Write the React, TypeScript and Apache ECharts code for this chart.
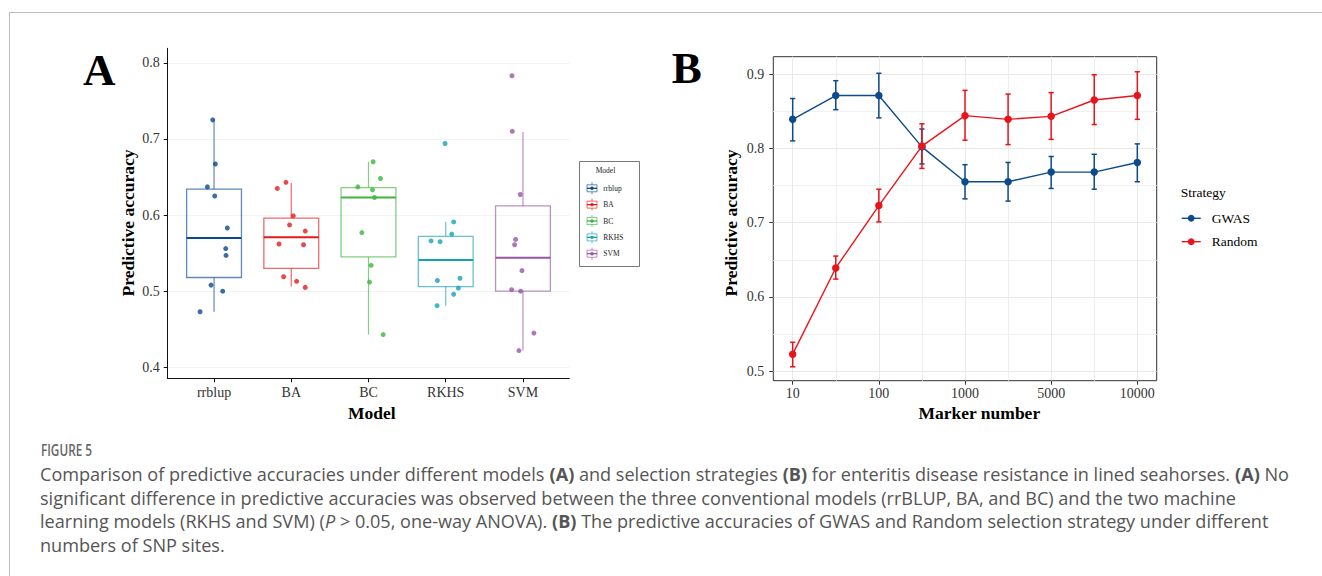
import React, { useEffect, useRef } from "react";
import * as echarts from "echarts";

// ---------- Panel A data ----------
const models = ["rrblup", "BA", "BC", "RKHS", "SVM"];
const modelColors = ["#0b4a8f", "#e31a1c", "#3fb53c", "#16a2b6", "#9656a6"];
// [min, Q1, median, Q3, max]
const boxStats = [
  [0.473, 0.518, 0.57, 0.634, 0.725],
  [0.506, 0.53, 0.571, 0.596, 0.642],
  [0.443, 0.545, 0.623, 0.636, 0.67],
  [0.481, 0.506, 0.541, 0.572, 0.591],
  [0.422, 0.5, 0.544, 0.612, 0.709],
];
const rrblupPts = [0.725, 0.667, 0.637, 0.625, 0.583, 0.556, 0.547, 0.508, 0.5, 0.473];
const rrblupJitter = [-0.017, 0.017, -0.086, 0.009, 0.172, 0.151, 0.155, -0.039, 0.112, -0.181];
const baPts = [0.643, 0.635, 0.599, 0.587, 0.579, 0.562, 0.561, 0.519, 0.513, 0.505];
const baJitter = [-0.069, -0.181, 0.026, -0.022, 0.181, -0.159, 0.159, -0.099, 0.069, 0.181];
const bcPts = [0.67, 0.648, 0.637, 0.633, 0.623, 0.577, 0.534, 0.512, 0.443];
const bcJitter = [0.06, 0.155, -0.138, 0.052, 0.078, -0.086, 0.034, 0.013, 0.19];
const rkhsPts = [0.694, 0.591, 0.575, 0.566, 0.565, 0.514, 0.517, 0.504, 0.496, 0.481];
const rkhsJitter = [-0.009, 0.103, 0.078, -0.19, -0.073, -0.108, 0.185, 0.164, 0.103, -0.112];
const svmPts = [0.783, 0.71, 0.627, 0.568, 0.561, 0.527, 0.502, 0.5, 0.445, 0.422];
const svmJitter = [-0.142, -0.138, -0.034, -0.095, -0.108, -0.013, -0.147, -0.03, 0.142, -0.052];
const modelPoints = [rrblupPts, baPts, bcPts, rkhsPts, svmPts];
const modelJitter = [rrblupJitter, baJitter, bcJitter, rkhsJitter, svmJitter];
const yTicksA = [0.4, 0.5, 0.6, 0.7, 0.8];

// ---------- Panel B data ----------
const markerPositions = [1, 2, 3, 4, 5, 6, 7, 8, 9];
const markerTickPositions = [1, 3, 5, 7, 9];
const markerTickLabels = ["10", "100", "1000", "5000", "10000"];
const gwasMean = [0.839, 0.871, 0.871, 0.802, 0.755, 0.755, 0.768, 0.768, 0.781];
const gwasLow = [0.81, 0.852, 0.841, 0.779, 0.732, 0.729, 0.746, 0.745, 0.755];
const gwasHigh = [0.867, 0.891, 0.901, 0.826, 0.778, 0.781, 0.789, 0.792, 0.806];
const randMean = [0.523, 0.639, 0.723, 0.803, 0.844, 0.839, 0.843, 0.865, 0.871];
const randLow = [0.506, 0.624, 0.701, 0.773, 0.811, 0.805, 0.812, 0.832, 0.839];
const randHigh = [0.539, 0.655, 0.745, 0.833, 0.878, 0.873, 0.875, 0.899, 0.903];
const yTicksB = [0.5, 0.6, 0.7, 0.8, 0.9];
const yMinorB = [0.55, 0.65, 0.75, 0.85];
const xMinorB = [2, 4, 6, 8];
const strategies = ["GWAS", "Random"];
const strategyColors = ["#0d4a8a", "#e8141b"];

// ---------- Caption ----------
const captionTitle = "FIGURE 5";
const captionLines = [
  "Comparison of predictive accuracies under different models {b|(A)} and selection strategies {b|(B)} for enteritis disease resistance in lined seahorses. {b|(A)} No",
  "significant difference in predictive accuracies was observed between the three conventional models (rrBLUP, BA, and BC) and the two machine",
  "learning models (RKHS and SVM) ({i|P} > 0.05, one-way ANOVA). {b|(B)} The predictive accuracies of GWAS and Random selection strategy under different",
  "numbers of SNP sites.",
];

const SERIF = '"Liberation Serif", "Times New Roman", serif';
const SANS = '"Open Sans", "Noto Sans", sans-serif';

export default function App() {
  const ref = useRef<HTMLDivElement>(null);
  useEffect(() => {
    if (!ref.current) return;
    const chart = echarts.init(ref.current, null, { renderer: "svg" });
    const alpha = (c: string, a: number) => echarts.color.modifyAlpha(c, a);

    const boxSeries: any = {
      type: "custom",
      name: "box",
      xAxisIndex: 0,
      yAxisIndex: 0,
      data: boxStats.map((s, i) => [i + 1, ...s]),
      encode: { x: 0, y: [1, 2, 3, 4, 5] },
      z: 2,
      renderItem: (params: any, api: any) => {
        const x = api.value(0);
        const c = modelColors[params.dataIndex];
        const light = alpha(c, 0.65);
        const pMin = api.coord([x, api.value(1)]);
        const pQ1 = api.coord([x, api.value(2)]);
        const pMed = api.coord([x, api.value(3)]);
        const pQ3 = api.coord([x, api.value(4)]);
        const pMax = api.coord([x, api.value(5)]);
        const hw = api.size([0.355, 0])[0];
        return {
          type: "group",
          children: [
            { type: "line", shape: { x1: pMax[0], y1: pMax[1], x2: pQ3[0], y2: pQ3[1] }, style: { stroke: light, lineWidth: 1.2 } },
            { type: "line", shape: { x1: pQ1[0], y1: pQ1[1], x2: pMin[0], y2: pMin[1] }, style: { stroke: light, lineWidth: 1.2 } },
            { type: "rect", shape: { x: pQ3[0] - hw, y: pQ3[1], width: 2 * hw, height: pQ1[1] - pQ3[1] }, style: { fill: "none", stroke: light, lineWidth: 1.3 } },
            { type: "line", shape: { x1: pMed[0] - hw, y1: pMed[1], x2: pMed[0] + hw, y2: pMed[1] }, style: { stroke: c, lineWidth: 2 } },
          ],
        };
      },
    };

    const pointSeries = models.map((m, i) => ({
      type: "scatter",
      name: m,
      xAxisIndex: 0,
      yAxisIndex: 0,
      symbol: "circle",
      symbolSize: 5,
      itemStyle: { color: modelColors[i] },
      z: 3,
      data: modelPoints[i].map((v, j) => [i + 1 + modelJitter[i][j], v]),
    }));

    const errSeries = (lo: number[], hi: number[], color: string, name: string) => ({
      type: "custom",
      name,
      xAxisIndex: 1,
      yAxisIndex: 1,
      data: markerPositions.map((p, i) => [p, lo[i], hi[i]]),
      encode: { x: 0, y: [1, 2] },
      renderItem: (params: any, api: any) => {
        const x = api.value(0);
        const a = api.coord([x, api.value(1)]);
        const b = api.coord([x, api.value(2)]);
        const hw = 2.6;
        const st = { stroke: color, lineWidth: 1.5 };
        return {
          type: "group",
          children: [
            { type: "line", shape: { x1: a[0], y1: a[1], x2: b[0], y2: b[1] }, style: st },
            { type: "line", shape: { x1: a[0] - hw, y1: a[1], x2: a[0] + hw, y2: a[1] }, style: st },
            { type: "line", shape: { x1: b[0] - hw, y1: b[1], x2: b[0] + hw, y2: b[1] }, style: st },
          ],
        };
      },
    });

    const lineSeries = (mean: number[], color: string, name: string) => ({
      type: "line",
      name,
      xAxisIndex: 1,
      yAxisIndex: 1,
      symbol: "circle",
      symbolSize: 7.5,
      showSymbol: true,
      itemStyle: { color },
      lineStyle: { color, width: 1.4 },
      data: markerPositions.map((p, i) => [p, mean[i]]),
    });

    const axisText = { fontFamily: SERIF, fontSize: 14, color: "#333" };

    // legends & labels
    const graphics: any[] = [];
    graphics.push({ type: "line", shape: { x1: 9.5, y1: 12.5, x2: 1322, y2: 12.5 }, style: { stroke: "#bdbdbd", lineWidth: 1 } });
    graphics.push({ type: "line", shape: { x1: 9.5, y1: 12.5, x2: 9.5, y2: 576 }, style: { stroke: "#bdbdbd", lineWidth: 1 } });
    graphics.push({ type: "text", x: 99.3, y: 70, style: { text: "A", fontFamily: SERIF, fontWeight: "bold", fontSize: 45, fill: "#000", textAlign: "center", textVerticalAlign: "middle" } });
    graphics.push({ type: "text", x: 686.7, y: 68.3, style: { text: "B", fontFamily: SERIF, fontWeight: "bold", fontSize: 45, fill: "#000", textAlign: "center", textVerticalAlign: "middle" } });
    const title = (t: string, x: number, y: number, rot = 0) => ({
      type: "text", x, y, rotation: rot,
      style: { text: t, fontFamily: SERIF, fontWeight: "bold", fontSize: 17.5, fill: "#000", textAlign: "center", textVerticalAlign: "middle" },
    });
    graphics.push(title("Predictive accuracy", 128.3, 223, Math.PI / 2));
    graphics.push(title("Model", 371.7, 413));
    graphics.push(title("Predictive accuracy", 730.7, 223, Math.PI / 2));
    graphics.push(title("Marker number", 979.3, 413));

    // Legend A
    graphics.push({ type: "rect", shape: { x: 579.5, y: 161.5, width: 60, height: 105 }, style: { fill: "#fff", stroke: "#555", lineWidth: 0.8 } });
    graphics.push({ type: "text", x: 605.5, y: 170.5, style: { text: "Model", fontFamily: SERIF, fontSize: 7.5, fill: "#222", textAlign: "center", textVerticalAlign: "middle" } });
    models.forEach((m, i) => {
      const cy = 188.3 + 16.35 * i;
      const c = modelColors[i];
      graphics.push({ type: "line", shape: { x1: 592, y1: cy - 6, x2: 592, y2: cy - 3.5 }, style: { stroke: alpha(c, 0.65), lineWidth: 1 } });
      graphics.push({ type: "line", shape: { x1: 592, y1: cy + 3.5, x2: 592, y2: cy + 6 }, style: { stroke: alpha(c, 0.65), lineWidth: 1 } });
      graphics.push({ type: "rect", shape: { x: 587, y: cy - 3.5, width: 10, height: 7 }, style: { fill: "#fff", stroke: alpha(c, 0.65), lineWidth: 1 } });
      graphics.push({ type: "line", shape: { x1: 587, y1: cy, x2: 597, y2: cy }, style: { stroke: c, lineWidth: 1.3 } });
      graphics.push({ type: "circle", shape: { cx: 592, cy, r: 1.7 }, style: { fill: c } });
      graphics.push({ type: "text", x: 603.3, y: cy, style: { text: m, fontFamily: SERIF, fontSize: 7.5, fill: "#222", textAlign: "left", textVerticalAlign: "middle" } });
    });

    // Legend B
    graphics.push({ type: "text", x: 1180.7, y: 192.7, style: { text: "Strategy", fontFamily: SERIF, fontSize: 13.5, fill: "#000", textAlign: "left", textVerticalAlign: "middle" } });
    strategies.forEach((s, i) => {
      const cy = 218.3 + 23.4 * i;
      const c = strategyColors[i];
      graphics.push({ type: "line", shape: { x1: 1181.7, y1: cy, x2: 1200.7, y2: cy }, style: { stroke: c, lineWidth: 1.4 } });
      graphics.push({ type: "circle", shape: { cx: 1191.2, cy, r: 3.4 }, style: { fill: c } });
      graphics.push({ type: "text", x: 1211.7, y: cy, style: { text: s, fontFamily: SERIF, fontSize: 13.5, fill: "#000", textAlign: "left", textVerticalAlign: "middle" } });
    });

    // Caption
    graphics.push({ type: "text", x: 41, y: 450, scaleX: 0.76, style: { text: captionTitle, fontFamily: SANS, fontWeight: 600, fontSize: 15.5, fill: "#666", textAlign: "left", textVerticalAlign: "middle" } });
    const rich = {
      b: { fontFamily: SANS, fontSize: 18, fontWeight: "bold", fill: "#555" },
      i: { fontFamily: SANS, fontSize: 18, fontStyle: "italic", fill: "#555" },
    };
    captionLines.forEach((t, i) => {
      graphics.push({ type: "text", x: 40, y: 474 + 23.6 * i, scaleX: 1.005, style: { text: t, rich, fontFamily: SANS, fontSize: 18, fill: "#555", textAlign: "left", textVerticalAlign: "middle" } });
    });

    chart.setOption({
      animation: false,
      backgroundColor: "#fff",
      grid: [
        { left: 167.7, top: 48.3, width: 401.6, height: 330, containLabel: false },
        { left: 773.3, top: 56.7, width: 383.4, height: 324, containLabel: false, show: true, borderColor: "#333", borderWidth: 1, backgroundColor: "transparent" },
      ],
      xAxis: [
        {
          gridIndex: 0, type: "value", min: 0.4, max: 5.6,
          axisLine: { show: true, lineStyle: { color: "#111", width: 1 } },
          axisTick: { show: true, customValues: [1, 2, 3, 4, 5], length: 4, lineStyle: { color: "#111" } },
          axisLabel: { show: true, customValues: [1, 2, 3, 4, 5], formatter: (v: number) => models[Math.round(v) - 1], margin: 7, ...axisText },
          splitLine: { show: false },
        },
        {
          gridIndex: 1, type: "value", min: 0.55, max: 9.45, position: "bottom",
          axisLine: { show: false },
          axisTick: { show: true, customValues: markerTickPositions, length: 4, lineStyle: { color: "#333" } },
          axisLabel: { show: true, customValues: markerTickPositions, formatter: (v: number) => markerTickLabels[markerTickPositions.indexOf(Math.round(v))], margin: 6, ...axisText },
          splitLine: { show: true, lineStyle: { color: "#e9e9e9", width: 1 } },
        },
        {
          gridIndex: 1, type: "value", min: 0.55, max: 9.45, position: "top",
          axisLine: { show: false },
          axisTick: { show: false, customValues: xMinorB },
          axisLabel: { show: false },
          splitLine: { show: true, lineStyle: { color: "#eeeeee", width: 1 } },
        },
      ],
      yAxis: [
        {
          gridIndex: 0, type: "value", min: 0.3856, max: 0.819,
          axisLine: { show: true, lineStyle: { color: "#111", width: 1 } },
          axisTick: { show: true, customValues: yTicksA, length: 4, lineStyle: { color: "#111" } },
          axisLabel: { show: true, customValues: yTicksA, formatter: (v: number) => v.toFixed(1), margin: 8, ...axisText },
          splitLine: { show: true, lineStyle: { color: "#f3f3f3", width: 1 } },
        },
        {
          gridIndex: 1, type: "value", min: 0.4873, max: 0.9233,
          axisLine: { show: false },
          axisTick: { show: true, customValues: yTicksB, length: 4, lineStyle: { color: "#333" } },
          axisLabel: { show: true, customValues: yTicksB, formatter: (v: number) => v.toFixed(1), margin: 9, ...axisText },
          splitLine: { show: true, lineStyle: { color: "#e9e9e9", width: 1 } },
        },
        {
          gridIndex: 1, type: "value", min: 0.4873, max: 0.9233, position: "right",
          axisLine: { show: false },
          axisTick: { show: false, customValues: yMinorB },
          axisLabel: { show: false },
          splitLine: { show: true, lineStyle: { color: "#f1f1f1", width: 1 } },
        },
      ],
      series: [
        boxSeries,
        ...pointSeries,
        errSeries(gwasLow, gwasHigh, strategyColors[0], "GWAS error"),
        lineSeries(gwasMean, strategyColors[0], "GWAS"),
        errSeries(randLow, randHigh, strategyColors[1], "Random error"),
        lineSeries(randMean, strategyColors[1], "Random"),
      ],
      graphic: graphics,
    });
    return () => chart.dispose();
  }, []);
  return <div ref={ref} style={{ position: "fixed", left: 0, top: 0, width: 1322, height: 576 }} />;
}
